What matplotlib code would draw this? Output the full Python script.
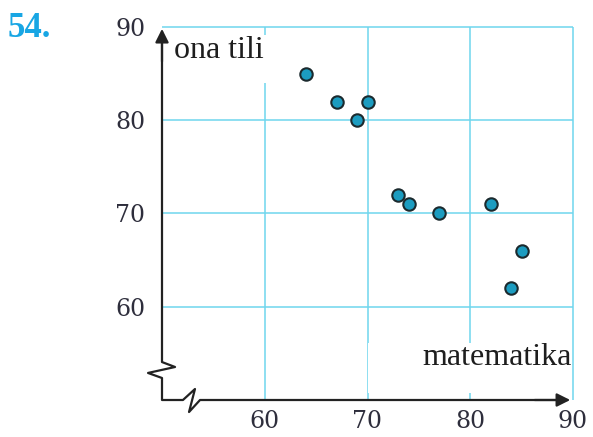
import matplotlib.pyplot as plt
from matplotlib.patches import Rectangle

# data
matematika = [64, 67, 70, 69, 73, 74, 77, 82, 85, 84]
ona_tili = [85, 82, 82, 80, 72, 71, 70, 71, 66, 62]
x_ticks = [60, 70, 80, 90]
y_ticks = [60, 70, 80, 90]

grid_color = '#6fd6ee'
axis_color = '#222222'

fig = plt.figure(figsize=(5.93, 4.37), dpi=100)
ax = fig.add_axes([162 / 593, 37 / 437, 411 / 593, 373 / 437])
ax.set_xlim(50, 90)
ax.set_ylim(50, 90)
for s in ax.spines.values():
    s.set_visible(False)

# grid
ax.vlines(x_ticks, 50, 90, color=grid_color, lw=1.1, zorder=0, clip_on=False)
ax.hlines(y_ticks, 50, 90, color=grid_color, lw=1.1, zorder=0, clip_on=False)

# ticks
ax.set_xticks(x_ticks)
ax.set_yticks(y_ticks)
ax.tick_params(length=0, labelsize=17, labelcolor='#2e2e3c')
ax.tick_params(axis='x', pad=7)
ax.tick_params(axis='y', pad=12)
for lab in ax.get_xticklabels() + ax.get_yticklabels():
    lab.set_family('DejaVu Serif')

# axes with broken-scale zigzags
ax.plot([50, 50, 51.27, 48.64, 50, 50, 52.04, 53.21, 52.63, 53.7, 88.5],
        [88.5, 54.07, 53.54, 52.9, 52.36, 50, 50, 51.18, 48.71, 50, 50],
        color=axis_color, lw=1.6, clip_on=False, zorder=3)
ax.annotate('', xy=(50, 90.1), xytext=(50, 86),
            arrowprops=dict(arrowstyle='-|>', color=axis_color, lw=1.6,
                            mutation_scale=20), annotation_clip=False)
ax.annotate('', xy=(90.0, 50), xytext=(86, 50),
            arrowprops=dict(arrowstyle='-|>', color=axis_color, lw=1.6,
                            mutation_scale=20), annotation_clip=False)

# points
ax.scatter(matematika, ona_tili, s=80, color='#1c9cc0', edgecolor='#1b2a2e',
           linewidth=1.5, zorder=4)

# axis labels on white boxes
ax.add_patch(Rectangle((51.07, 84.0), 10.2, 5.1, fc='white', ec='none', zorder=1))
ax.add_patch(Rectangle((70.05, 50.75), 19.85, 5.35, fc='white', ec='none', zorder=1))
ax.text(51.2, 86.68, 'ona tili', fontsize=23, family='Liberation Serif',
        color='#1e1e1e', va='baseline', ha='left', zorder=2)
ax.text(89.85, 53.75, 'matematika', fontsize=23, family='Liberation Serif',
        color='#1e1e1e', va='baseline', ha='right', zorder=2)

fig.text(8 / 593, 1 - 37 / 437, '54.', fontsize=25, fontweight='bold',
         family='Liberation Serif', color='#18a6e4', va='baseline')

fig.savefig('out.png', dpi=100)
